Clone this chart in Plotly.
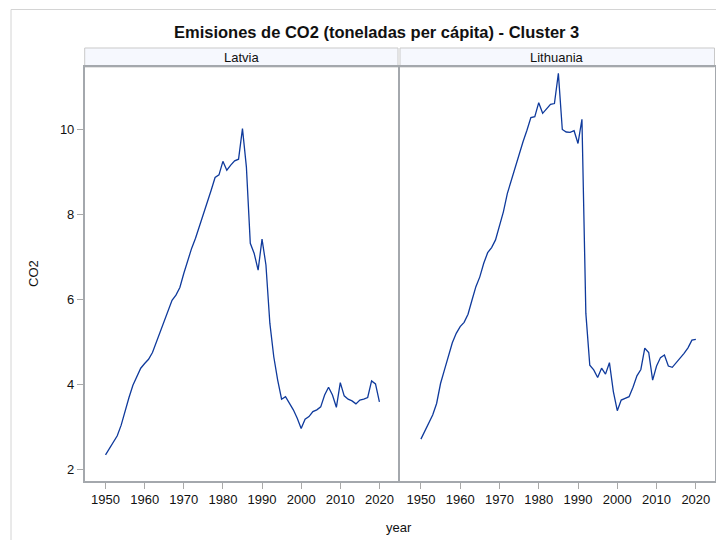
import plotly.graph_objects as go

# CO2 emissions per capita (tonnes), 1950-2020
years = list(range(1950, 2021))

latvia = [
    2.34, 2.49, 2.64, 2.79, 3.04, 3.40, 3.69, 3.98, 4.20, 4.38,
    4.49, 4.59, 4.75, 5.00, 5.24, 5.47, 5.73, 5.98, 6.10, 6.28,
    6.61, 6.93, 7.20, 7.44, 7.71, 8.02, 8.30, 8.57, 8.87, 8.93,
    9.25, 9.04, 9.16, 9.26, 9.30, 10.02, 9.12, 7.32, 7.08, 6.69,
    7.42, 6.81, 5.44, 4.65, 4.10, 3.65, 3.71, 3.55, 3.40, 3.20,
    2.96, 3.18, 3.24, 3.36, 3.40, 3.47, 3.75, 3.93, 3.75, 3.46,
    4.04, 3.73, 3.65, 3.61, 3.54, 3.63, 3.65, 3.69, 4.08, 4.01,
    3.59,
]

lithuania = [
    2.71, 2.91, 3.08, 3.28, 3.55, 4.02, 4.34, 4.69, 4.98, 5.20,
    5.36, 5.46, 5.65, 5.98, 6.30, 6.53, 6.85, 7.10, 7.22, 7.40,
    7.71, 8.06, 8.49, 8.81, 9.08, 9.44, 9.71, 9.98, 10.28, 10.30,
    10.63, 10.38, 10.49, 10.59, 10.61, 11.32, 10.00, 9.94, 9.93, 9.97,
    9.67, 10.24, 5.67, 4.45, 4.34, 4.16, 4.38, 4.24, 4.51, 3.83,
    3.38, 3.63, 3.67, 3.71, 3.93, 4.20, 4.35, 4.85, 4.75, 4.10,
    4.43, 4.63, 4.69, 4.43, 4.40, 4.51, 4.60, 4.73, 4.86, 5.04,
    5.06,
]

countries = ["Latvia", "Lithuania"]
series = [latvia, lithuania]

x_ticks = [1950, 1960, 1970, 1980, 1990, 2000, 2010, 2020]
y_ticks = [2, 4, 6, 8, 10]

title_text = "Emisiones de CO2 (toneladas per cápita) - Cluster 3"
x_title = "year"
y_title = "CO2"

W, H = 716, 540
FONT = "Liberation Sans, Arial, sans-serif"
LINE_COLOR = "#0f3a9c"
FRAME = "#a4a8ad"


def px(x):
    return x / W


def py(y):
    return 1 - y / H


# panel geometry (pixels)
panels = [(84.7, 398.0), (400.0, 714.5)]
top, bottom = 67.0, 481.0
strip_top = 48.0

fig = go.Figure()

for i, (name, vals) in enumerate(zip(countries, series)):
    fig.add_trace(go.Scatter(
        x=years, y=vals, mode="lines",
        line=dict(color=LINE_COLOR, width=1.3),
        xaxis="x" if i == 0 else "x2",
        yaxis="y" if i == 0 else "y2",
        showlegend=False, hoverinfo="x+y",
    ))

axis_common = dict(
    showgrid=False, zeroline=False,
    showline=True, mirror=True, linecolor=FRAME, linewidth=1.5,
    ticks="outside", ticklen=6, tickwidth=1, tickcolor="#a9a9a9",
    tickfont=dict(family=FONT, size=13, color="#111111"),
)

xr = [1944.68, 2024.75]
yr = [1.725, 11.47]

fig.update_layout(
    width=W, height=H,
    margin=dict(l=0, r=0, t=0, b=0),
    paper_bgcolor="white", plot_bgcolor="white",
    xaxis=dict(domain=[px(panels[0][0]), px(panels[0][1])], range=xr,
               tickvals=x_ticks, anchor="y", **axis_common),
    xaxis2=dict(domain=[px(panels[1][0]), px(panels[1][1])], range=xr,
                tickvals=x_ticks, anchor="y2", **axis_common),
    yaxis=dict(domain=[py(bottom), py(top)], range=yr,
               tickvals=y_ticks, anchor="x", **axis_common),
    yaxis2=dict(domain=[py(bottom), py(top)], range=yr,
                tickvals=y_ticks, anchor="x2", showticklabels=False,
                **{**axis_common, "ticks": ""}),
)

shapes = []
annotations = []

# outer frame (left and top edges)
shapes.append(dict(type="line", xref="paper", yref="paper",
                   x0=px(11), x1=px(11), y0=py(9.5), y1=py(H),
                   line=dict(color="#d4d4d4", width=1)))
shapes.append(dict(type="line", xref="paper", yref="paper",
                   x0=px(11), x1=px(W), y0=py(9.5), y1=py(9.5),
                   line=dict(color="#d4d4d4", width=1)))

# panel header strips
for (x0, x1), name in zip(panels, countries):
    shapes.append(dict(type="rect", xref="paper", yref="paper",
                       x0=px(x0), x1=px(x1), y0=py(top), y1=py(strip_top),
                       fillcolor="#f6f8fe", line=dict(color="#c9c9c9", width=1),
                       layer="below"))
    annotations.append(dict(text=name, xref="paper", yref="paper",
                            x=px((x0 + x1) / 2), y=py((strip_top + top) / 2),
                            xanchor="center", yanchor="middle", showarrow=False,
                            font=dict(family=FONT, size=13, color="#111111")))

# title and axis titles
annotations.append(dict(text="<b>" + title_text + "</b>", xref="paper", yref="paper",
                        x=px(376), y=py(32), xanchor="center", yanchor="middle",
                        showarrow=False,
                        font=dict(family=FONT, size=16.5, color="#111111")))
annotations.append(dict(text=x_title, xref="paper", yref="paper",
                        x=px(399), y=py(527), xanchor="center", yanchor="middle",
                        showarrow=False,
                        font=dict(family=FONT, size=13, color="#111111")))
annotations.append(dict(text=y_title, xref="paper", yref="paper",
                        x=px(33), y=py(274), xanchor="center", yanchor="middle",
                        textangle=-90, showarrow=False,
                        font=dict(family=FONT, size=13, color="#111111")))

fig.update_layout(shapes=shapes, annotations=annotations)

fig.write_html("out.html")
